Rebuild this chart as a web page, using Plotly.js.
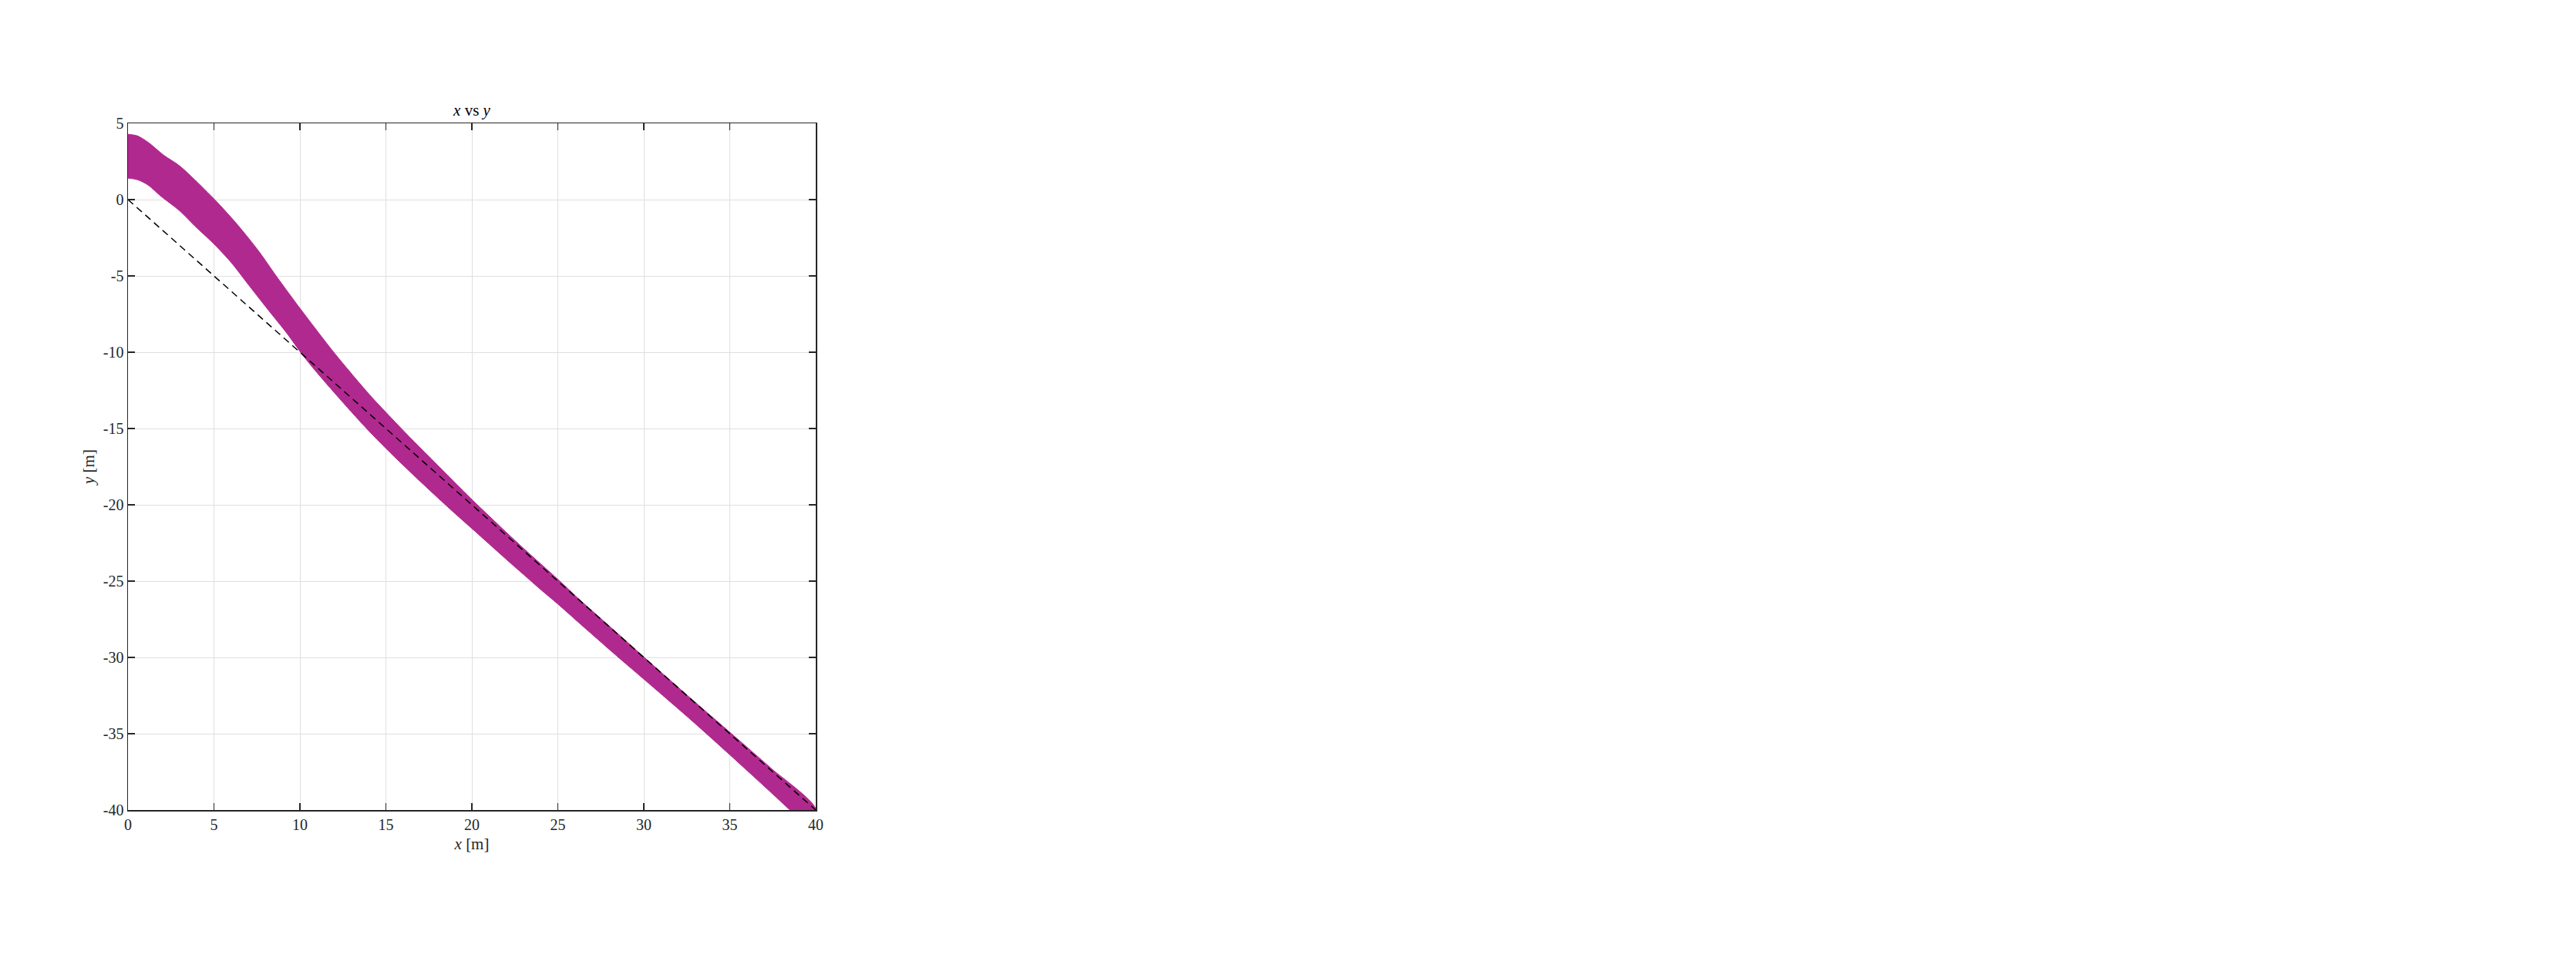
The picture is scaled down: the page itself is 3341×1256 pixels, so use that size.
<!DOCTYPE html>
<html>
<head>
<meta charset="utf-8">
<script src="https://cdn.plot.ly/plotly-3.0.1.min.js"></script>
<style>html,body{margin:0;padding:0;background:#fff;}#chart{width:3341px;height:1256px;}</style>
</head>
<body>
<div id="chart"></div>
<script>
// Upper boundary of the band
const upperX = [0, 0.3, 0.59, 1.19, 2.09, 2.99, 4.04, 5.23, 6.43, 7.63, 8.68, 10.02, 12.0, 14.06, 15.0, 16.5, 18.0, 20.0, 22.0, 23.04, 25.0, 26.19, 28.43, 30.23, 32.92, 35.02, 37.41, 40];
const upperY = [4.28, 4.24, 4.16, 3.74, 2.90, 2.22, 1.13, -0.22, -1.73, -3.42, -5.10, -7.15, -10.05, -12.8, -13.94, -15.7, -17.4, -19.65, -21.8, -22.89, -24.88, -26.14, -28.38, -30.2, -32.87, -34.92, -37.27, -39.9];
// Lower boundary of the band
const lowerX = [0, 0.56, 1.16, 1.94, 2.99, 3.89, 4.93, 5.98, 7.03, 8.08, 9.27, 10.1, 11.0, 12.0, 13.0, 14.0, 15.0, 16.0, 17.0, 18.0, 19.0, 20.0, 21.0, 22.0, 23.04, 24.0, 25.0, 26.2, 28.4, 30.1, 32.9, 35.0, 37.4, 38.5, 40];
const lowerY = [1.41, 1.30, 0.96, 0.20, -0.72, -1.73, -2.83, -4.09, -5.61, -7.12, -8.80, -10.1, -11.35, -12.65, -13.92, -15.15, -16.3, -17.4, -18.47, -19.52, -20.55, -21.55, -22.56, -23.57, -24.6, -25.55, -26.5, -27.7, -29.88, -31.52, -34.25, -36.38, -38.85, -40.0, -41.5];
// Dashed reference line
const refX = [0, 40];
const refY = [0, -40];
// Ticks
const xTickVals = [0, 5, 10, 15, 20, 25, 30, 35, 40];
const xTickText = ['0', '5', '10', '15', '20', '25', '30', '35', '40'];
const yTickVals = [-40, -35, -30, -25, -20, -15, -10, -5, 0, 5];
const yTickText = ['-40', '-35', '-30', '-25', '-20', '-15', '-10', '-5', '0', '5'];

const bandX = upperX.concat(lowerX.slice().reverse());
const bandY = upperY.concat(lowerY.slice().reverse());

const FONT = 'Liberation Serif, DejaVu Serif, serif';
const AXC = '#262626';
const GRID = '#dfdfdf';

const traces = [
  {
    x: bandX, y: bandY, type: 'scatter', mode: 'lines',
    fill: 'toself', fillcolor: '#B0298F',
    line: {color: '#B0298F', width: 1, shape: 'spline', smoothing: 0.8},
    hoverinfo: 'skip', showlegend: false
  },
  {
    x: refX, y: refY, type: 'scatter', mode: 'lines',
    line: {color: '#000000', width: 1.5, dash: '9px,6px'},
    showlegend: false
  }
];

const axisCommon = {
  showline: true, linecolor: AXC, linewidth: 1.5, mirror: 'ticks',
  ticks: 'inside', ticklen: 9, tickwidth: 1.5, tickcolor: AXC,
  showgrid: true, gridcolor: GRID, gridwidth: 1,
  zeroline: false,
  tickfont: {family: FONT, size: 20, color: AXC}
};

const layout = {
  width: 3341, height: 1256,
  paper_bgcolor: '#ffffff', plot_bgcolor: '#ffffff',
  margin: {l: 166, r: 2283, t: 160, b: 205},
  showlegend: false,
  title: {
    text: '<i>x</i> vs <i>y</i>',
    font: {family: FONT, size: 21, color: '#000000'},
    x: 0.5, xref: 'paper', xanchor: 'center',
    y: 1 - 143 / 1256, yref: 'container', yanchor: 'middle'
  },
  xaxis: Object.assign({}, axisCommon, {
    range: [0, 40], tickvals: xTickVals, ticktext: xTickText,
    title: {text: '<i>x</i> [m]', font: {family: FONT, size: 21, color: AXC}, standoff: 8}
  }),
  yaxis: Object.assign({}, axisCommon, {
    range: [-40, 5], tickvals: yTickVals, ticktext: yTickText,
    title: {text: '<i>y</i> [m]', font: {family: FONT, size: 21, color: AXC}, standoff: 5}
  })
};

Plotly.newPlot('chart', traces, layout, {staticPlot: true, displayModeBar: false});
</script>
</body>
</html>
